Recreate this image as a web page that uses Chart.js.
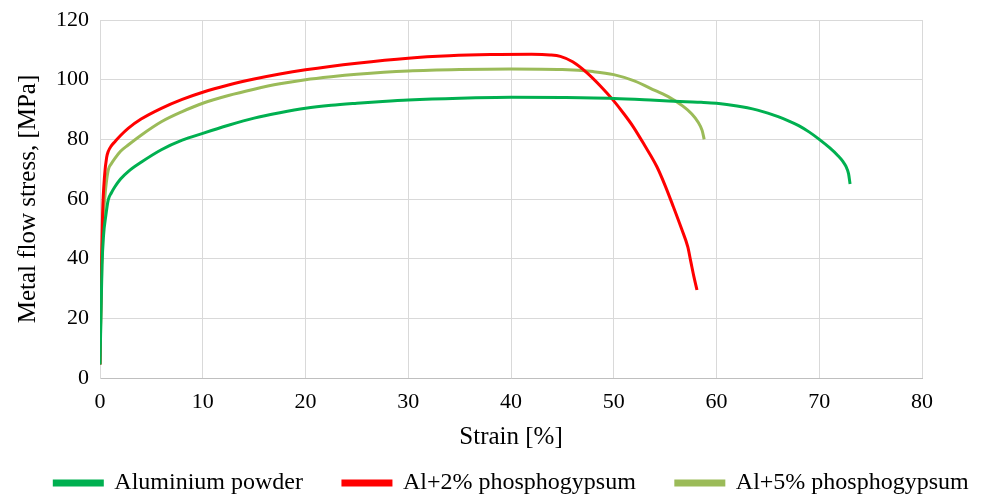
<!DOCTYPE html>
<html lang="en">
<head>
<meta charset="UTF-8">
<title>Metal flow stress vs strain</title>
<script src="https://cdn.jsdelivr.net/npm/chart.js"></script>
<style>
  html, body { margin: 0; padding: 0; background: #fff; }
  #wrap { width: 993px; height: 497px; }
</style>
</head>
<body>
<div id="wrap"><canvas id="flowChart"></canvas></div>
<script>
// values: strain [%] / stress [MPa]
const seriesNames = ['Aluminium powder', 'Al+2% phosphogypsum', 'Al+5% phosphogypsum'];
const seriesColors = ['#00B050', '#FF0000', '#9BBB59'];

const alStrain  = [0, 0.1, 0.2, 0.35, 0.55, 0.8, 1.1, 1.45, 2, 2.74, 4, 5.97, 8, 10, 12.5, 15, 17.5, 20, 22.5, 25, 27.5, 30, 35, 40, 45, 50, 54, 57, 58.5, 60, 61, 62, 63, 64, 65, 66, 67, 68, 69, 70, 71, 71.8, 72.3, 72.6, 72.85, 73];
const alStress  = [4.5, 22, 38, 48, 54, 59.7, 62, 64.1, 66.7, 69.2, 72.3, 76.5, 79.7, 82, 84.7, 87.1, 88.9, 90.4, 91.4, 92.1, 92.7, 93.2, 93.8, 94.1, 94, 93.7, 93.1, 92.6, 92.4, 92.1, 91.7, 91.2, 90.6, 89.8, 88.8, 87.6, 86.2, 84.6, 82.5, 80, 77.2, 74.6, 72.6, 70.9, 68.5, 65];

const al2Strain = [0, 0.1, 0.25, 0.45, 0.65, 0.8, 1.1, 1.45, 2, 2.74, 4, 5.97, 8, 10, 12.5, 15, 17.5, 20, 25, 30, 34, 38, 42, 43.8, 44.8, 46, 47.4, 48.7, 49.9, 51, 51.9, 53, 54.2, 55, 55.8, 56.6, 57.2, 57.5, 57.8, 58.1];
const al2Stress = [4.5, 30, 55, 68, 74, 75.9, 77.8, 79.2, 81.3, 83.7, 86.8, 90.4, 93.4, 95.8, 98.2, 100.2, 101.9, 103.3, 105.5, 107.2, 108, 108.4, 108.5, 108.3, 107.8, 106, 102.3, 97.9, 93.3, 88.5, 84.2, 78, 70.8, 64.5, 57.4, 50, 44, 39, 34, 29.5];

const al5Strain = [0, 0.1, 0.2, 0.35, 0.55, 0.8, 1.1, 1.45, 2, 2.74, 4, 5.97, 8, 10, 12.5, 15, 17.5, 20, 22.5, 25, 30, 35, 40, 45, 48, 50, 52, 54, 55.5, 56.7, 57.6, 58.2, 58.6, 58.8];
const al5Stress = [4.5, 25, 42, 55, 63.5, 69.7, 71.8, 73.6, 76, 78.1, 81.4, 85.9, 89.3, 92.1, 94.7, 96.8, 98.6, 100, 101, 101.8, 102.9, 103.4, 103.6, 103.4, 102.7, 101.7, 99.6, 96.4, 93.9, 91.2, 88.5, 85.8, 83, 80];

const xTicks = [0, 10, 20, 30, 40, 50, 60, 70, 80];
const yTicks = [0, 20, 40, 60, 80, 100, 120];

function toPoints(xs, ys) {
    return xs.map((x, i) => ({ x: x, y: ys[i] }));
}

Chart.defaults.font.family = "'Liberation Serif', 'Times New Roman', serif";
Chart.defaults.color = '#000';

const ctx = document.getElementById('flowChart').getContext('2d');
const flowChart = new Chart(ctx, {
    type: 'line',
    data: {
        datasets: [
            { label: seriesNames[0], data: toPoints(alStrain, alStress) },
            { label: seriesNames[1], data: toPoints(al2Strain, al2Stress) },
            { label: seriesNames[2], data: toPoints(al5Strain, al5Stress) }
        ].map((d, i) => Object.assign(d, {
            borderColor: seriesColors[i],
            backgroundColor: seriesColors[i],
            borderWidth: 3,
            pointRadius: 0,
            fill: false,
            cubicInterpolationMode: 'monotone'
        }))
    },
    options: {
        responsive: true,
        maintainAspectRatio: false,
        animation: false,
        // right padding < 0 widens the legend row so all three items fit on one line
        layout: { padding: { left: 10, right: -20, top: 0, bottom: -8 } },
        plugins: {
            tooltip: { enabled: false },
            legend: {
                position: 'bottom',
                labels: {
                    boxWidth: 48,
                    boxHeight: 4,
                    padding: 40,
                    font: { size: 24 },
                    color: '#000'
                }
            }
        },
        scales: {
            x: {
                type: 'linear',
                min: 0,
                max: 80,
                afterBuildTicks: s => { s.ticks = xTicks.map(v => ({ value: v })); },
                afterFit: s => { s.height = 53; },
                ticks: { font: { size: 22 }, color: '#000', maxRotation: 0, padding: 11 },
                grid: { color: '#d9d9d9', lineWidth: 1, drawTicks: false },
                border: { color: '#bfbfbf', width: 1 },
                title: { display: true, text: 'Strain [%]', font: { size: 25 }, color: '#000', padding: { top: 0, bottom: -21 } }
            },
            y: {
                min: 0,
                max: 120,
                afterBuildTicks: s => { s.ticks = yTicks.map(v => ({ value: v })); },
                afterFit: s => { s.width = 90; s.paddingTop = 20; },
                ticks: { font: { size: 22 }, color: '#000', padding: 11 },
                grid: { color: '#d9d9d9', lineWidth: 1, drawTicks: false },
                border: { color: '#d9d9d9', width: 1 },
                title: { display: true, text: 'Metal flow stress, [MPa]', font: { size: 25 }, color: '#000', padding: { top: 3.5, bottom: 0 } }
            },
            // empty axis on the right, only to keep the plot area narrower than the legend row
            yRight: {
                position: 'right',
                min: 0,
                max: 1,
                afterFit: s => { s.width = 91; },
                ticks: { display: false },
                grid: { display: false, drawTicks: false },
                border: { display: false }
            }
        }
    }
});
</script>
</body>
</html>
